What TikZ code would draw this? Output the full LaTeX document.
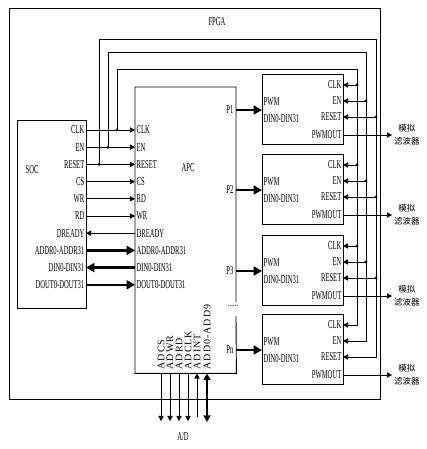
\documentclass[tikz,border=0pt]{standalone}
\usepackage{fontspec}
\setmainfont{Liberation Serif}
\newfontfamily\narrowfont[FakeStretch=0.55]{Liberation Serif}
\newfontfamily\spacedfont[LetterSpace=10]{Liberation Serif}
\newfontfamily\cjkfont{Noto Sans CJK SC}
\usetikzlibrary{arrows.meta, calc, positioning}

\tikzset{
  box/.style={draw, line width=0.9pt, inner sep=0pt},
  frame/.style={draw, line width=0.7pt, inner sep=0pt},
  pin/.style={font=\narrowfont\fontsize{12}{13}\selectfont, inner sep=1.5pt},
  adc/.style={font=\spacedfont\fontsize{10}{11}\selectfont, rotate=90, anchor=west, inner sep=1.5pt},
  filt/.style={font=\cjkfont\fontsize{8.5}{12.5}\selectfont, align=center, anchor=west, inner sep=2pt},
  wire/.style={line width=0.8pt},
  sig/.style={wire, ->},
  sigback/.style={wire, <-},
  data/.style={line width=2.4pt, ->},
  databack/.style={line width=2.4pt, <-},
  dot/.style={circle, fill, inner sep=0pt, minimum size=3.2pt},
}

\begin{document}
\begin{tikzpicture}[x=1pt, y=-1pt, >={Triangle[length=3.5pt 2, width=3.5pt 2.2]}]
	\useasboundingbox (0,0) rectangle (427,449);

	% outer FPGA frame
	\node[frame, minimum width=371, minimum height=391, anchor=north west] (fpga) at (9,8) {};
	\node[pin] (fpganame) at (217,22) {FPGA};

	% SOC and APC
	\node[box, minimum width=69, minimum height=188, anchor=north west] (soc) at (17,120) {};
	\node[pin] (socname) at (32,170) {SOC};
	\node[inner sep=0pt, minimum width=101, minimum height=286, anchor=north west] (apc) at (135,87) {};
	\node[pin] (apcname) at (188,168) {APC};
	\coordinate (gapa) at (236,302); \coordinate (gapb) at (236,316);
	\draw[line width=0.9pt] (gapa) |- (apc.north west) |- (apc.south east) -- (gapb);
	\node[pin] (more) at (233,306) {......};

	\foreach \i/\sname/\aname/\how in {0/CLK/CLK/sig, 1/EN/EN/sig, 2/RESET/RESET/sig, 3/CS/CS/sig, 4/WR/RD/sig, 5/RD/WR/sig, 6/DREADY/DREADY/sigback, 7/ADDR0-ADDR31/ADDR0-ADDR31/data, 8/DIN0-DIN31/DIN0-DIN31/databack, 9/DOUT0-DOUT31/DOUT0-DOUT31/data}{
		\node[pin, anchor=east] (s\i) at (86,130+17.2*\i) {\sname};
		\node[pin, anchor=west] (a\i) at (135,130+17.2*\i) {\aname};
		\draw[\how] (s\i.east) -- (a\i.west);
	}

	% PWM blocks
	\foreach \k/\top/\p in {1/74/P1, 2/154/P2, 3/235/P3, 4/314/Pn}{
		\node[box, minimum width=81, minimum height=70, anchor=north west] (pwm\k) at (262,\top) {};
		\node[pin, anchor=east] (c\k) at (343,\top+11) {CLK};
		\node[pin, anchor=east] (e\k) at (343,\top+27) {EN};
		\node[pin, anchor=east] (r\k) at (343,\top+43) {RESET};
		\node[pin, anchor=east] (o\k) at (343,\top+61) {PWMOUT};
		\node[pin, anchor=west] (w\k) at (262,\top+28) {PWM};
		\node[pin, anchor=west] (d\k) at (262,\top+45) {DIN0-DIN31};
		\node[pin, anchor=east] (pl\k) at (235,\top+36) {\p};
		\draw[data] (apc.east |- pl\k) -- (pwm\k.west |- pl\k);
		\coordinate (f\k) at (392,\top+61);
		\draw[sig] (o\k.east) -- (f\k);
		\node[filt] (t\k) at (f\k) {模拟\\滤波器};
	}

	% CLK / EN / RESET buses
	\node[dot] (jclk) at (117,130) {};
	\node[dot] (jen) at (108,147.2) {};
	\node[dot] (jrst) at (99,164.4) {};
	\coordinate (clktop) at (357,69);
	\coordinate (entop) at (366,52);
	\coordinate (rsttop) at (376,39);
	\draw[sig] (jclk.center) |- (clktop) |- (c4.east);
	\draw[sig] (jen.center) |- (entop) |- (e4.east);
	\draw[sig] (jrst.center) |- (rsttop) |- (r4.east);
	\foreach \k in {1,2,3}{
		\node[dot] (bc\k) at (clktop |- c\k) {};
		\node[dot] (be\k) at (entop |- e\k) {};
		\node[dot] (br\k) at (rsttop |- r\k) {};
		\draw[sig] (bc\k.center) -- (c\k.east);
		\draw[sig] (be\k.center) -- (e\k.east);
		\draw[sig] (br\k.center) -- (r\k.east);
	}

	% A/D interface
	\node[adc] (l1) at (161,371) {ADCS};
	\node[adc] (l2) at (170,371) {ADWR};
	\node[adc] (l3) at (179,371) {ADRD};
	\node[adc] (l4) at (188,371) {ADCLK};
	\node[adc] (l5) at (197,371) {ADINT};
	\node[adc] (l6) at (207,371) {ADD0-ADD9};
	\coordinate (b1) at (161,421); \coordinate (b2) at (170,421); \coordinate (b3) at (179,421);
	\coordinate (b4) at (188,421); \coordinate (b5) at (197,417); \coordinate (b6) at (207,422);
	\draw[sig] (apc.south -| l1) -- (b1);
	\draw[sig] (apc.south -| l2) -- (b2);
	\draw[sig] (apc.south -| l3) -- (b3);
	\draw[sig] (apc.south -| l4) -- (b4);
	\draw[sig] (b5) -- (apc.south -| l5);
	\draw[line width=1.6pt, <->] (apc.south -| l6) -- (b6);
	\node[pin] (adlabel) at (183,437) {A/D};
\end{tikzpicture}
\end{document}
